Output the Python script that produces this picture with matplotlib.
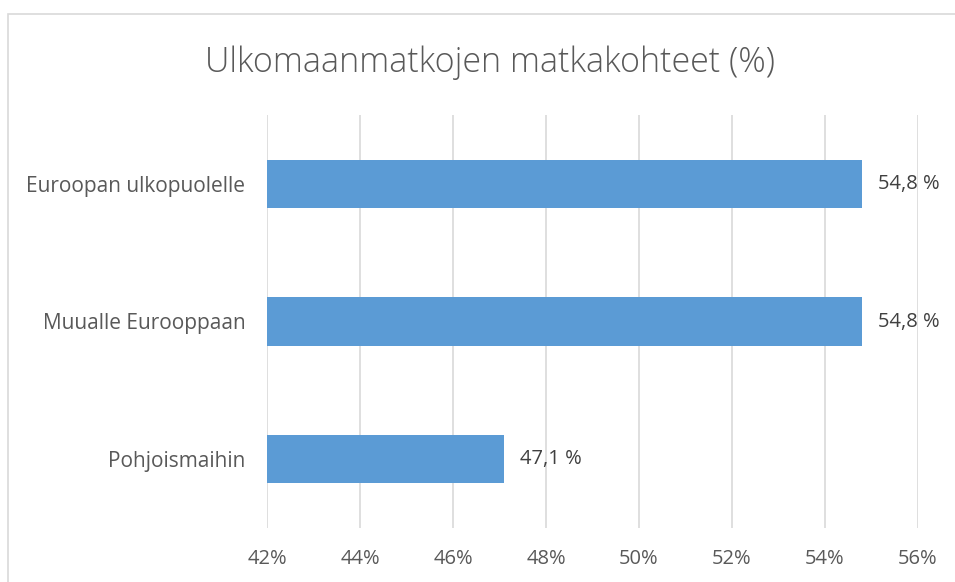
import matplotlib
matplotlib.use("Agg")
import matplotlib.pyplot as plt
from matplotlib.patches import Rectangle
from matplotlib.ticker import FuncFormatter

categories = ["Pohjoismaihin", "Muualle Eurooppaan", "Euroopan ulkopuolelle"]
values = [47.1, 54.8, 54.8]
value_labels = ["47,1 %", "54,8 %", "54,8 %"]
title = "Ulkomaanmatkojen matkakohteet (%)"

W, H = 955, 582
fig = plt.figure(figsize=(W / 100, H / 100), dpi=100)
fig.patch.set_facecolor("white")

# outer chart border
fig.add_artist(Rectangle((8 / W, -0.05), 1.2, 1 - 14 / H + 0.05, transform=fig.transFigure,
                         fill=False, edgecolor="#d9d9d9", linewidth=1.2))

left, right, top, bottom = 267, 918, 115, 528
ax = fig.add_axes([left / W, 1 - bottom / H, (right - left) / W, (bottom - top) / H])

ypos = list(range(len(categories)))
ax.barh(ypos, values, height=0.35, color="#5B9BD5", zorder=3)
ax.set_xlim(42, 56)
ax.set_ylim(-0.5, len(categories) - 0.5)
ax.set_xticks(range(42, 57, 2))
ax.xaxis.set_major_formatter(FuncFormatter(lambda v, p: f"{v:.0f}%"))
ax.set_yticks(ypos)
ax.set_yticklabels(categories)

for s in ax.spines.values():
    s.set_visible(False)
ax.grid(axis="x", color="#d9d9d9", linewidth=1.2, zorder=0)
ax.tick_params(axis="both", length=0, colors="#595959")
ax.tick_params(axis="x", pad=15, labelsize=14.5)
ax.tick_params(axis="y", pad=15.5, labelsize=15)
for lab in ax.get_xticklabels():
    lab.set_fontfamily("Open Sans")
for lab in ax.get_yticklabels():
    lab.set_fontfamily("Open Sans")

for y, v, t in zip(ypos, values, value_labels):
    ax.annotate(t, xy=(v, y), xytext=(11.5, 0), textcoords="offset points",
                va="center", ha="left", fontsize=14.5, color="#404040",
                fontfamily="Open Sans", annotation_clip=False)

fig.text(490 / W, 1 - 63 / H, title, ha="center", va="center", fontsize=24.5,
         color="#595959", fontfamily="Open Sans", fontweight="light")

fig.savefig("out.png", dpi=100)
